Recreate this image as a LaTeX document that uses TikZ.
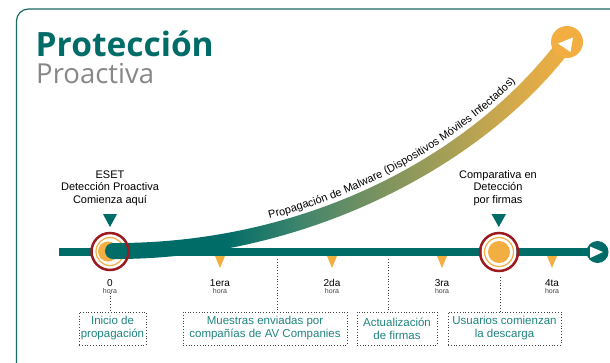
\documentclass[tikz,border=0pt]{standalone}
\usepackage{fontspec}
\setmainfont{Liberation Sans}
\newfontfamily\titlefont{Open Sans}
\usetikzlibrary{decorations.text}
\definecolor{tl}{RGB}{0,108,104}
\definecolor{tltxt}{RGB}{30,132,126}
\definecolor{org}{RGB}{242,174,64}
\definecolor{rd}{RGB}{155,27,32}
\definecolor{gr}{RGB}{135,135,135}
\definecolor{frm}{RGB}{25,105,100}
\definecolor{ga}{RGB}{60,132,108}
\definecolor{gb}{RGB}{105,142,100}
\definecolor{gc}{RGB}{170,160,85}
\definecolor{gd}{RGB}{215,170,75}
\pgfdeclarehorizontalshading{bandgrad}{100bp}{color(0bp)=(tl); color(37bp)=(tl); color(45bp)=(ga); color(51bp)=(gb); color(62bp)=(gc); color(69bp)=(gd); color(75bp)=(org); color(100bp)=(org)}
\begin{document}
\begin{tikzpicture}[x=1pt,y=-1pt,
  lbl/.style={align=center,inner sep=0pt,font=\fontsize{11}{12.5}\selectfont},
  num/.style={anchor=base,inner sep=0pt,font=\fontsize{10}{10}\selectfont},
  hr/.style={anchor=base,inner sep=0pt,text=black!75,font=\fontsize{7}{7}\selectfont},
  infobox/.style={draw=black!75,dotted,line width=0.8pt,text=tltxt,align=center,inner sep=0pt,minimum height=33pt,font=\fontsize{11.5}{13}\selectfont},
  dotline/.style={draw=black!75,dotted,line width=0.8pt},
  otri/.style={fill=org},
  ttri/.style={fill=tl}]
\useasboundingbox (0,0) rectangle (610,362);
% frame
\draw[frm,line width=1.2pt,rounded corners=12pt] (16.5,364) |- (612,9);
% title
\node[anchor=base west,inner sep=0pt,text=tl,font=\titlefont\bfseries\fontsize{33.5}{33.5}\selectfont] (t1) at (35.5,56) {Protección};
\node[anchor=base west,inner sep=0pt,text=gr,font=\titlefont\fontsize{27.5}{27.5}\selectfont] (t2) at (36,83.3) {Proactiva};
% timeline
\coordinate (tl0) at (59,252);
\node[circle,fill=tl,minimum size=22pt,inner sep=0pt] (tend) at (597.5,252) {};
\draw[tl,line width=8.5pt] (tl0) -- (tend.center);
\fill[white] (590,246.5) -- (590,258) -- (603,252) -- cycle;
% markers (lower part)
\coordinate (m1) at (110,251.5);
\coordinate (m2) at (499,252);
\fill[white] (m1) circle (17.5);
\draw[org,line width=1.2pt] (m1) circle (14);
\fill[org] (108,251.5) circle (10);
\fill[white] (m2) circle (17.5);
\draw[org,line width=1.2pt] (m2) circle (14.5);
\fill[org] (m2) circle (11);
% band
\coordinate (s) at (113,251);
\coordinate (e) at (567,42);
\shade[shading=bandgrad] (113,243) .. controls (300,244) and (468.6,160.2) .. (560.6,37.2)
   -- (573.4,46.8) .. controls (481.4,169.8) and (300,260) .. (113,259) -- cycle;
\fill[tl] (s) circle (8);
\node[circle,fill=org,minimum size=32pt,inner sep=0pt] (eb) at (e) {};
\fill[white] (558,43.5) -- (573,37.5) -- (570.5,52) -- cycle;
\coordinate (ts) at (113,238);
\coordinate (te) at (556.6,34.2);
\path[decorate,decoration={text along path,text={|\fontsize{11}{13}\selectfont|Propagación de Malware (Dispositivos Móviles Infectados)},text align={left indent=158pt}}]
  (ts) .. controls (300,239) and (464.6,157.2) .. (te);
% red rings
\draw[rd,line width=2.5pt] (m1) circle (18.5);
\draw[rd,line width=2.5pt] (m2) circle (19);
% teal triangles
\fill[ttri] (103,214) -- (117,214) -- (110,227) -- cycle;
\fill[ttri] (491.5,214) -- (506,214) -- (498.8,227) -- cycle;
% orange triangles
\foreach \x in {220,332,442,552}{\fill[otri] (\x-5,256) -- (\x+5,256) -- (\x,268) -- cycle;}
% top labels
\node[lbl] (eset) at (110,188) {ESET\\Detección Proactiva\\Comienza aquí};
\node[lbl] (comp) at (498,188) {Comparativa en\\Detección\\por firmas};
% hours
\node[num] (n0) at (110,286) {0};
\node[hr] (h0) at (110,293.5) {hora};
\node[num] (n1) at (220,286) {1era};
\node[hr] (h1) at (220,293.5) {hora};
\node[num] (n2) at (332,286) {2da};
\node[hr] (h2) at (332,293.5) {hora};
\node[num] (n3) at (442,286) {3ra};
\node[hr] (h3) at (442,293.5) {hora};
\node[num] (n4) at (552,286) {4ta};
\node[hr] (h4) at (552,293.5) {hora};
% boxes
\node[infobox,minimum width=67pt] (b1) at (112.5,328.5) {Inicio de\\propagación};
\node[infobox,minimum width=164pt] (b2) at (265,328.5) {Muestras enviadas por\\compañías de AV Companies};
\node[infobox,minimum width=80pt] (b3) at (397,328.5) {Actualización\\de firmas};
\node[infobox,minimum width=113pt] (b4) at (504.5,328.5) {Usuarios comienzan\\la descarga};
% dotted connectors
\coordinate (d2) at (277,259);
\coordinate (d3) at (388,259);
\coordinate (d4) at (500,277);
\draw[dotline] ([yshift=1pt]h0.south) -- (h0.south |- b1.north);
\draw[dotline] (d2) -- (d2 |- b2.north);
\draw[dotline] (d3) -- (d3 |- b3.north);
\draw[dotline] (d4) -- (d4 |- b4.north);
\end{tikzpicture}
\end{document}
